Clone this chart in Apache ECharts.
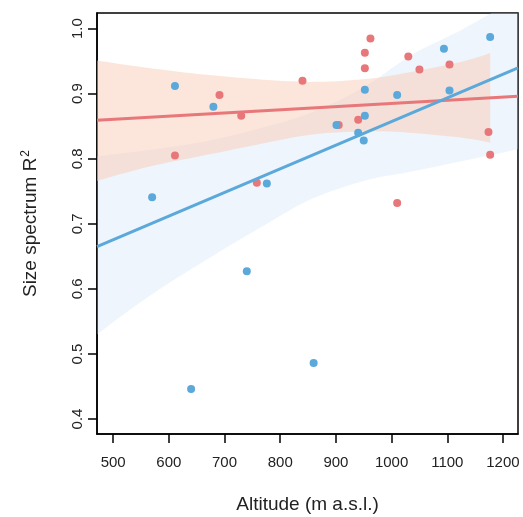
<!DOCTYPE html>
<html>
<head>
<meta charset="utf-8">
<script src="https://cdn.jsdelivr.net/npm/echarts@6/dist/echarts.min.js"></script>
<style>
  html, body { margin: 0; padding: 0; background: #fff; }
  #chart { width: 523px; height: 517px; }
</style>
</head>
<body>
<div id="chart"></div>
<script>
const RED = "#e8777a";
const BLUE = "#5ba8da";
const FONT = "Liberation Sans, Arial, sans-serif";

// points
const redAltitude = [611, 691, 730, 758, 840, 905, 940, 952, 952, 962, 1010, 1030, 1050, 1104, 1174, 1177];
const redR2 = [0.805, 0.898, 0.866, 0.763, 0.920, 0.852, 0.860, 0.939, 0.963, 0.985, 0.732, 0.957, 0.937, 0.945, 0.841, 0.806];

const blueAltitude = [570, 611, 640, 680, 740, 776, 860, 901, 940, 950, 952, 952, 1010, 1094, 1104, 1177];
const blueR2 = [0.741, 0.912, 0.446, 0.880, 0.627, 0.762, 0.486, 0.852, 0.840, 0.828, 0.866, 0.906, 0.898, 0.969, 0.905, 0.987];

// fitted lines (ends at the plot edges)
const fitX = [471, 1227];
const redFit = [0.859, 0.896];
const blueFit = [0.665, 0.9395];

// confidence bands
const blueBandX = [471, 560, 668, 760, 853, 950, 1033, 1130, 1230];
const blueLower = [0.530, 0.586, 0.645, 0.692, 0.737, 0.766, 0.780, 0.797, 0.815];
const blueUpper = [0.804, 0.813, 0.827, 0.846, 0.870, 0.910, 0.958, 1.000, 1.050];

const redBandX = [471, 560, 668, 760, 853, 950, 1033, 1130, 1177];
const redLower = [0.766, 0.787, 0.806, 0.822, 0.837, 0.842, 0.840, 0.832, 0.825];
const redUpper = [0.951, 0.940, 0.929, 0.922, 0.918, 0.922, 0.933, 0.950, 0.962];

const xTicks = [500, 600, 700, 800, 900, 1000, 1100, 1200];
const yTicks = [0.4, 0.5, 0.6, 0.7, 0.8, 0.9, 1.0];

const zip = (xs, ys) => xs.map((x, i) => [x, ys[i]]);

// catmull-rom through pixel points -> svg bezier segments (no leading M)
const curveSegments = (pts) => {
  let d = "";
  for (let i = 0; i < pts.length - 1; i++) {
    const p0 = pts[Math.max(i - 1, 0)];
    const p1 = pts[i];
    const p2 = pts[i + 1];
    const p3 = pts[Math.min(i + 2, pts.length - 1)];
    const c1 = [p1[0] + (p2[0] - p0[0]) / 6, p1[1] + (p2[1] - p0[1]) / 6];
    const c2 = [p2[0] - (p3[0] - p1[0]) / 6, p2[1] - (p3[1] - p1[1]) / 6];
    d += ` C${c1[0]},${c1[1]} ${c2[0]},${c2[1]} ${p2[0]},${p2[1]}`;
  }
  return d;
};

// confidence band as one closed custom path
const band = (xs, lower, upper, fill) => ({
  type: "custom",
  clip: true,
  silent: true,
  data: xs.map((x, i) => [x, lower[i], upper[i]]),
  renderItem: (params, api) => {
    if (params.dataIndex !== 0) return;
    const top = xs.map((x, i) => api.coord([x, upper[i]]));
    const bottom = xs.map((x, i) => api.coord([x, lower[i]])).reverse();
    const pathData =
      `M${top[0][0]},${top[0][1]}` +
      curveSegments(top) +
      ` L${bottom[0][0]},${bottom[0][1]}` +
      curveSegments(bottom) +
      " Z";
    return {
      type: "path",
      shape: { pathData },
      style: { fill },
    };
  },
});

const fitLine = (xs, ys, color) => ({
  type: "line",
  data: zip(xs, ys),
  symbol: "none",
  lineStyle: { color, width: 3 },
  silent: true,
});

const points = (xs, ys, color) => ({
  type: "scatter",
  data: zip(xs, ys),
  symbolSize: 8,
  itemStyle: { color, opacity: 1 },
});

const axisCommon = {
  axisLine: { show: true, lineStyle: { color: "#000", width: 1.5 } },
  axisTick: { show: true, length: 9, lineStyle: { color: "#000", width: 1.5 } },
  splitLine: { show: false },
  nameLocation: "middle",
};

const chart = echarts.init(document.getElementById("chart"), null, { renderer: "canvas" });

chart.setOption({
  animation: false,
  backgroundColor: "#fff",
  grid: {
    left: 97,
    right: 5,
    top: 13,
    bottom: 83,
    outerBoundsMode: "none",
    containLabel: false,
    show: true,
    borderColor: "#000",
    borderWidth: 1.5,
    backgroundColor: "transparent",
  },
  xAxis: {
    ...axisCommon,
    type: "value",
    min: 471,
    max: 1227,
    axisTick: { ...axisCommon.axisTick, customValues: xTicks },
    axisLabel: {
      customValues: xTicks,
      margin: 21,
      fontSize: 15,
      color: "#222",
      fontFamily: FONT,
      formatter: (v) => String(v),
    },
    name: "Altitude (m a.s.l.)",
    nameGap: 61,
    nameTextStyle: { fontSize: 19, color: "#222", fontFamily: FONT },
  },
  yAxis: {
    ...axisCommon,
    type: "value",
    min: 0.377,
    max: 1.024,
    axisTick: { ...axisCommon.axisTick, customValues: yTicks },
    axisLabel: {
      customValues: yTicks,
      rotate: 90,
      margin: 12,
      fontSize: 15,
      color: "#222",
      fontFamily: FONT,
      formatter: (v) => v.toFixed(1),
    },
    name: "Size spectrum R{sup|2}",
    nameRotate: 90,
    nameGap: 55,
    nameTextStyle: {
      fontSize: 19,
      color: "#222",
      fontFamily: FONT,
      rich: {
        sup: { fontSize: 12, fontFamily: FONT, color: "#222", verticalAlign: "top", padding: [0, 0, 10, 1] },
      },
    },
  },
  series: [
    band(blueBandX, blueLower, blueUpper, "rgba(198,222,245,0.3)"),
    band(redBandX, redLower, redUpper, "rgba(250,203,182,0.5)"),
    fitLine(fitX, redFit, RED),
    fitLine(fitX, blueFit, BLUE),
    points(redAltitude, redR2, RED),
    points(blueAltitude, blueR2, BLUE),
  ],
});
</script>
</body>
</html>
